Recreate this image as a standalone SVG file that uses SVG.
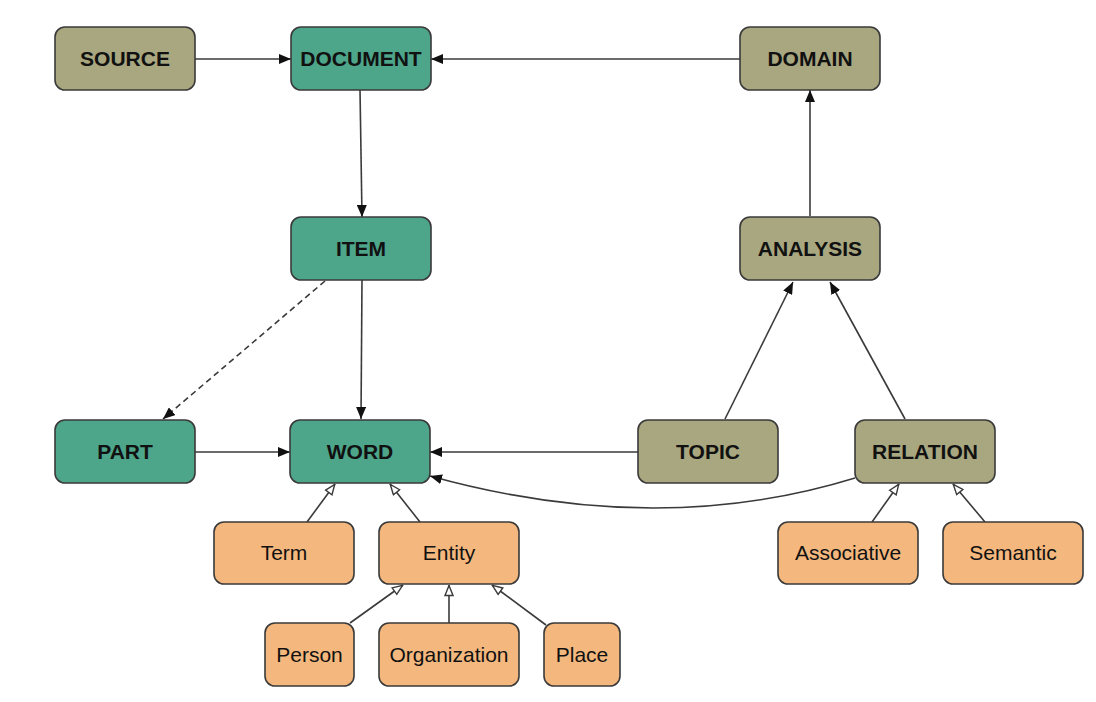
<svg xmlns="http://www.w3.org/2000/svg" width="1096" height="702" viewBox="0 0 1096 702">
<style>
.n rect{stroke:#3a3a3a;stroke-width:1.6}
.olive rect{fill:#a9a77f}
.teal rect{fill:#4da58a}
.orange rect{fill:#f4b87e}
.n text{font-family:"Liberation Sans",Arial,sans-serif;font-size:21px;fill:#111;text-anchor:middle}
.b text{font-weight:bold}
.c path,.c line{fill:none;stroke:#3a3a3a;stroke-width:1.6}
.f{marker-end:url(#fa)}
.h{marker-end:url(#ha)}
.d{stroke-dasharray:6 4}
</style>
<defs>
<marker id="fa" viewBox="0 0 12 10" refX="12" refY="5" markerWidth="12" markerHeight="10" markerUnits="userSpaceOnUse" orient="auto">
<path d="M0,0 L12,5 L0,10 z" fill="#111"/>
</marker>
<marker id="ha" viewBox="0 0 12 10" refX="11.5" refY="5" markerWidth="12" markerHeight="10" markerUnits="userSpaceOnUse" orient="auto">
<path d="M1,1 L11,5 L1,9 z" fill="#fff" stroke="#3a3a3a" stroke-width="1.4"/>
</marker>
</defs>
<rect width="1096" height="702" fill="#fff"/>
<g class="c" id="connectors">
<line class="f" x1="195" y1="59" x2="291" y2="59"/>
<line class="f" x1="740" y1="59" x2="431" y2="59"/>
<line class="f" x1="360" y1="90" x2="362" y2="217"/>
<line class="f" x1="362" y1="280" x2="361" y2="419"/>
<line class="f d" x1="325" y1="281" x2="163" y2="419"/>
<line class="f" x1="195" y1="452" x2="290" y2="452"/>
<line class="f" x1="638" y1="452" x2="430" y2="452"/>
<path class="f" d="M855,478 Q657,539 430,476"/>
<line class="f" x1="810" y1="216" x2="810" y2="90"/>
<line class="f" x1="725" y1="419" x2="793" y2="282"/>
<line class="f" x1="905" y1="419" x2="830" y2="282"/>
<line class="h" x1="307" y1="522" x2="335" y2="484"/>
<line class="h" x1="420" y1="522" x2="390" y2="484"/>
<line class="h" x1="350" y1="623" x2="403" y2="585"/>
<line class="h" x1="449" y1="623" x2="449" y2="585"/>
<line class="h" x1="546" y1="625" x2="492" y2="585"/>
<line class="h" x1="872" y1="522" x2="899" y2="484"/>
<line class="h" x1="985" y1="522" x2="953" y2="484"/>
</g>
<g id="source" class="n olive b"><rect x="55" y="27" width="140" height="63" rx="10"/><text x="125" y="66">SOURCE</text></g>
<g id="document" class="n teal b"><rect x="291" y="27" width="140" height="63" rx="10"/><text x="361" y="66">DOCUMENT</text></g>
<g id="domain" class="n olive b"><rect x="740" y="27" width="140" height="63" rx="10"/><text x="810" y="66">DOMAIN</text></g>
<g id="item" class="n teal b"><rect x="291" y="217" width="140" height="63" rx="10"/><text x="361" y="256">ITEM</text></g>
<g id="analysis" class="n olive b"><rect x="740" y="217" width="140" height="63" rx="10"/><text x="810" y="256">ANALYSIS</text></g>
<g id="part" class="n teal b"><rect x="55" y="420" width="140" height="63" rx="10"/><text x="125" y="459">PART</text></g>
<g id="word" class="n teal b"><rect x="290" y="420" width="140" height="63" rx="10"/><text x="360" y="459">WORD</text></g>
<g id="topic" class="n olive b"><rect x="638" y="420" width="140" height="63" rx="10"/><text x="708" y="459">TOPIC</text></g>
<g id="relation" class="n olive b"><rect x="855" y="420" width="140" height="63" rx="10"/><text x="925" y="459">RELATION</text></g>
<g id="term" class="n orange"><rect x="214" y="522" width="140" height="62" rx="10"/><text x="284" y="560">Term</text></g>
<g id="entity" class="n orange"><rect x="379" y="522" width="140" height="62" rx="10"/><text x="449" y="560">Entity</text></g>
<g id="person" class="n orange"><rect x="265" y="623" width="89" height="63" rx="10"/><text x="309.5" y="662">Person</text></g>
<g id="organization" class="n orange"><rect x="379" y="623" width="140" height="63" rx="10"/><text x="449" y="662">Organization</text></g>
<g id="place" class="n orange"><rect x="544" y="623" width="76" height="63" rx="10"/><text x="582" y="662">Place</text></g>
<g id="associative" class="n orange"><rect x="778" y="522" width="140" height="62" rx="10"/><text x="848" y="560">Associative</text></g>
<g id="semantic" class="n orange"><rect x="943" y="522" width="140" height="62" rx="10"/><text x="1013" y="560">Semantic</text></g>
</svg>
